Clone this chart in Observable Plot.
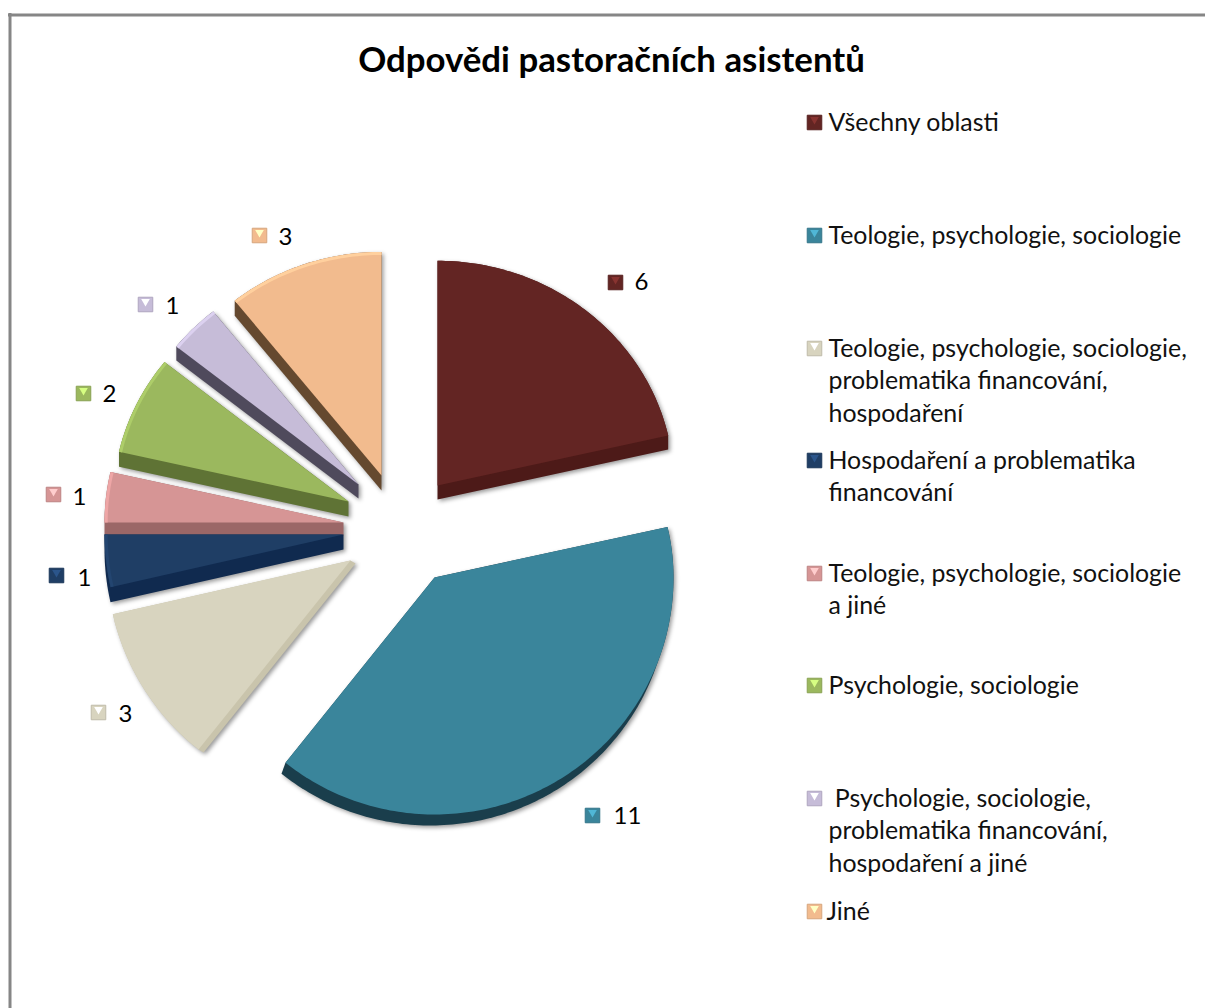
<!DOCTYPE html>
<html>
<head>
<meta charset="utf-8">
<script src="https://cdn.jsdelivr.net/npm/d3@7"></script>
<script src="https://cdn.jsdelivr.net/npm/@observablehq/plot@0.6"></script>
<style>
html,body{margin:0;padding:0;background:#fff}
svg{display:block}
</style>
</head>
<body>
<div id="chart"></div>
<script>
const title = "Odpovědi pastoračních asistentů";
const categories = [
  "Všechny oblasti",
  "Teologie, psychologie, sociologie",
  "Teologie, psychologie, sociologie,\nproblematika financování,\nhospodaření",
  "Hospodaření a problematika\nfinancování",
  "Teologie, psychologie, sociologie\na jiné",
  "Psychologie, sociologie",
  " Psychologie, sociologie,\nproblematika financování,\nhospodaření a jiné",
  "Jiné"
];
const values = [6, 11, 3, 1, 1, 2, 1, 3];
const faceColors = ["#632523","#3a859b","#d8d4bf","#1f3e65","#d69595","#9bb85e","#c6bcd8","#f2bb8e"];
const sideColors = ["#4d1a18","#1a3e4c","#c9c4ac","#102a4f","#9b6767","#5f7335","#4f4a5c","#65492f"];

// layout of the exploded pie
const pieX = 396, pieY = 527, radiusX = 239, radiusBack = 227, radiusFront = 237;
const radiusScale = [0.99, 1, 1.02, 1, 1, 0.985, 0.975, 0.985];
const pullX = [41, 38, -46, -53, -53, -48, -38, -15];
const pullY = [-42, 50, 33, 7, -5, -26, -43, -52];
const depthX = [0, -4, 5, 0, 0, 0, 0, 0];
const depthY = [14, 11, 3, 15, 13, 15, 14, 15];
const drawOrder = [7, 6, 5, 4, 3, 2, 1, 0];

// layout of data labels and legend
const labelKeyX = [615, 592, 98, 56, 53, 83, 145, 259];
const labelKeyY = [282, 815, 712, 575, 494, 393, 304, 235];
const labelTextX = [641, 627, 125, 84, 79, 109, 172, 285];
const labelTextY = [282, 816, 714, 578, 497, 394, 306, 237];
const legendKeyY = [122, 235, 348, 460, 573, 685, 798, 911];
const legendTextX = [828, 828, 828, 828, 828, 828, 828, 826];

const total = d3.sum(values);
const ends = Array.from(d3.cumsum(values));
function polar(i, deg) {
  const a = deg * Math.PI / 180, c = Math.cos(a), s = radiusScale[i];
  return [pieX + pullX[i] + s * radiusX * Math.sin(a),
          pieY + pullY[i] - s * (c > 0 ? radiusBack : radiusFront) * c];
}
function wedge(i) {
  const from = (ends[i] - values[i]) / total * 360, to = ends[i] / total * 360;
  const pts = [[pieX + pullX[i], pieY + pullY[i]]];
  const n = Math.ceil(to - from);
  for (let k = 0; k <= n; k++) pts.push(polar(i, from + (to - from) * k / n));
  return pts;
}
const faces = [], sides = [], rims = [];
for (const i of drawOrder) {
  const w = wedge(i);
  const hull = d3.polygonHull(w.concat(w.map(([x, y]) => [x + depthX[i], y + depthY[i]])));
  hull.forEach(([x, y]) => sides.push({slice: categories[i], x, y, fill: sideColors[i]}));
  w.forEach(([x, y]) => faces.push({slice: categories[i], x, y, fill: faceColors[i]}));
  if (i >= 3) {
    const cx = w[0][0], cy = w[0][1];
    w.slice(1).forEach(([x, y]) => rims.push({slice: categories[i],
      x: cx + (x - cx) * 0.993, y: cy + (y - cy) * 0.993,
      stroke: d3.color(faceColors[i]).brighter(0.3).formatHex()}));
  }
}
const idx = d3.range(values.length);
const lighten = i => d3.color(faceColors[i]).brighter(0.9).formatHex();
const darken = i => d3.color(faceColors[i]).darker(0.35).formatHex();
const keyMarks = (xs, ys) => [
  Plot.dot(idx, {x: i => xs[i], y: i => ys[i], symbol: "square", r: 8.2, fill: i => faceColors[i], stroke: darken, strokeWidth: 1}),
  Plot.dot(idx, {x: i => xs[i], y: i => ys[i] - 3, symbol: "triangle", rotate: 180, r: 3.2, fill: lighten})
];

const font = "Lato, 'Noto Sans', sans-serif";
const chart = Plot.plot({
  width: 1205, height: 1008, margin: 0,
  style: {background: "#fff", fontFamily: font},
  x: {domain: [0, 1205], range: [0, 1205], axis: null},
  y: {domain: [0, 1008], range: [0, 1008], axis: null},
  marks: [
    Plot.ruleY([14.5], {x1: 8, x2: 1205, stroke: "#868686", strokeWidth: 3}),
    Plot.ruleX([9.5], {y1: 13, y2: 1008, stroke: "#868686", strokeWidth: 3}),
    Plot.line(sides, {x: "x", y: "y", z: "slice", fill: "fill", stroke: "none",
      imageFilter: "drop-shadow(2px 2px 2px rgba(0,0,0,0.4))"}),
    Plot.line(faces, {x: "x", y: "y", z: "slice", fill: "fill", stroke: "none"}),
    Plot.line(rims, {x: "x", y: "y", z: "slice", stroke: "stroke", strokeWidth: 3, strokeLinecap: "butt"}),
    Plot.text([title], {x: 611, y: 60, text: d => d, fontSize: 34.8, fontWeight: 700, fill: "#000", fontFamily: font}),
    ...keyMarks(labelKeyX, labelKeyY),
    Plot.text(idx, {x: i => labelTextX[i], y: i => labelTextY[i], text: i => String(values[i]), fontSize: 24, fill: "#000", fontFamily: font}),
    ...keyMarks(idx.map(() => 814), legendKeyY),
    Plot.text(idx, {x: i => legendTextX[i], y: i => legendKeyY[i], text: i => categories[i],
      textAnchor: "start", lineAnchor: "top", dy: -15, fontSize: 24.9, lineHeight: 1.31, fill: "#111", fontFamily: font})
  ]
});
document.getElementById("chart").append(chart);
</script>
</body>
</html>
